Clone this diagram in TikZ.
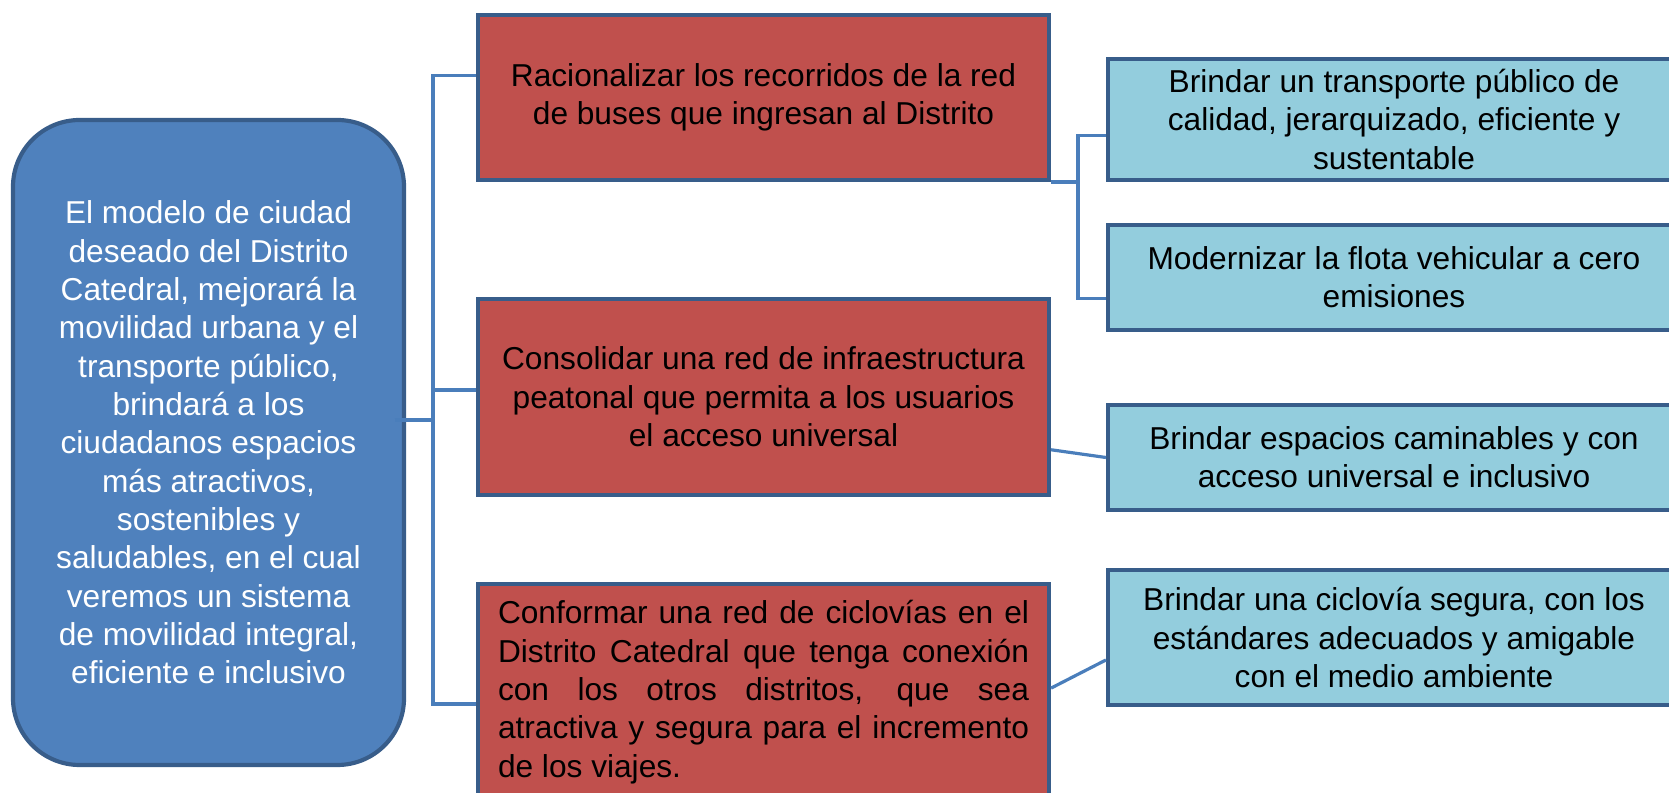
\documentclass[tikz,border=0pt]{standalone}
\usepackage{fontspec}
\setmainfont{Liberation Sans}
\usepackage{tikz}
\usetikzlibrary{calc}

\definecolor{modelfill}{HTML}{4F81BD}
\definecolor{boxedge}{HTML}{385D8A}
\definecolor{goalfill}{HTML}{C0504D}
\definecolor{aimfill}{HTML}{93CDDD}
\definecolor{linkblue}{HTML}{4A7EBB}

\newcommand{\px}{0.36pt}

\tikzset{
  every node/.style={font=\fontsize{11.4}{13.8}\selectfont},
  link/.style={draw=linkblue, line width=1.15pt},
  modelbox/.style={rectangle, rounded corners=24pt, draw=boxedge, line width=1.5pt,
    fill=modelfill, text=white, align=center, minimum width=391*\px, minimum height=645*\px},
  goalbox/.style={rectangle, draw=boxedge, line width=1.5pt, fill=goalfill,
    align=center, minimum width=571*\px},
  aimbox/.style={rectangle, draw=boxedge, line width=1.5pt, fill=aimfill,
    align=center, minimum width=572*\px}
}

\begin{document}
\begin{tikzpicture}[x=0.36pt, y=-0.36pt]
      \path[use as bounding box, clip] (0,0) rectangle (1669,793);

      %% Model of the district
      \node[modelbox] (model) at (208.5,442.5) {El modelo de ciudad\\ deseado del Distrito\\
        Catedral, mejorará la\\ movilidad urbana y el\\ transporte público,\\ brindará a los\\
        ciudadanos espacios\\ más atractivos,\\ sostenibles y\\ saludables, en el cual\\
        veremos un sistema\\ de movilidad integral,\\ eficiente e inclusivo};

      %% Strategic lines
      \node[goalbox, minimum height=165*\px] (buses) at (763.5,97.5)
        {Racionalizar los recorridos de la red\\ de buses que ingresan al Distrito};
      \node[goalbox, minimum height=196*\px] (walk) at (763.5,397)
        {Consolidar una red de infraestructura\\ peatonal que permita a los usuarios\\ el acceso universal};
      \node[goalbox, minimum height=216*\px, text width=531*\px, align=justify] (bike) at (763.5,692)
        {Conformar una red de ciclovías en el\linebreak Distrito Catedral que tenga conexión\linebreak
        con los otros distritos, que sea\linebreak atractiva y segura para el incremento\linebreak
        de los viajes.};

      %% Objectives
      \node[aimbox, minimum height=121*\px] (quality) at (1394,119.5)
        {Brindar un transporte público de\\ calidad, jerarquizado, eficiente y\\ sustentable};
      \node[aimbox, minimum height=105*\px] (fleet) at (1394,277.5)
        {Modernizar la flota vehicular a cero\\ emisiones};
      \node[aimbox, minimum height=105*\px] (spaces) at (1394,457.5)
        {Brindar espacios caminables y con\\ acceso universal e inclusivo};
      \node[aimbox, minimum height=135*\px] (lane) at (1394,637.5)
        {Brindar una ciclovía segura, con los\\ estándares adecuados y amigable\\ con el medio ambiente};

      %% Connectors
      \coordinate (spineL) at (433,420);
      \coordinate (spineR) at (buses.south east -| 1078,0);
      \draw[link] ([xshift=-4pt]model.east |- spineL) -- (spineL);
      \draw[link] ([yshift=8pt]buses.west) -| (spineL) |- ([yshift=-4.3pt]bike.west);
      \draw[link] ([yshift=2.5pt]walk.west) -- ([yshift=2.5pt]walk.west -| spineL);
      \draw[link] (buses.south east) -- (spineR);
      \draw[link] ([yshift=-5.9pt]quality.west) -| (spineR) |- ([yshift=-7.7pt]fleet.west);
      \draw[link] ([yshift=-19pt]walk.east) -- (spaces.west);
      \draw[link] ([yshift=1.4pt]bike.east) -- ([yshift=-8.1pt]lane.west);

    \end{tikzpicture}
\end{document}
